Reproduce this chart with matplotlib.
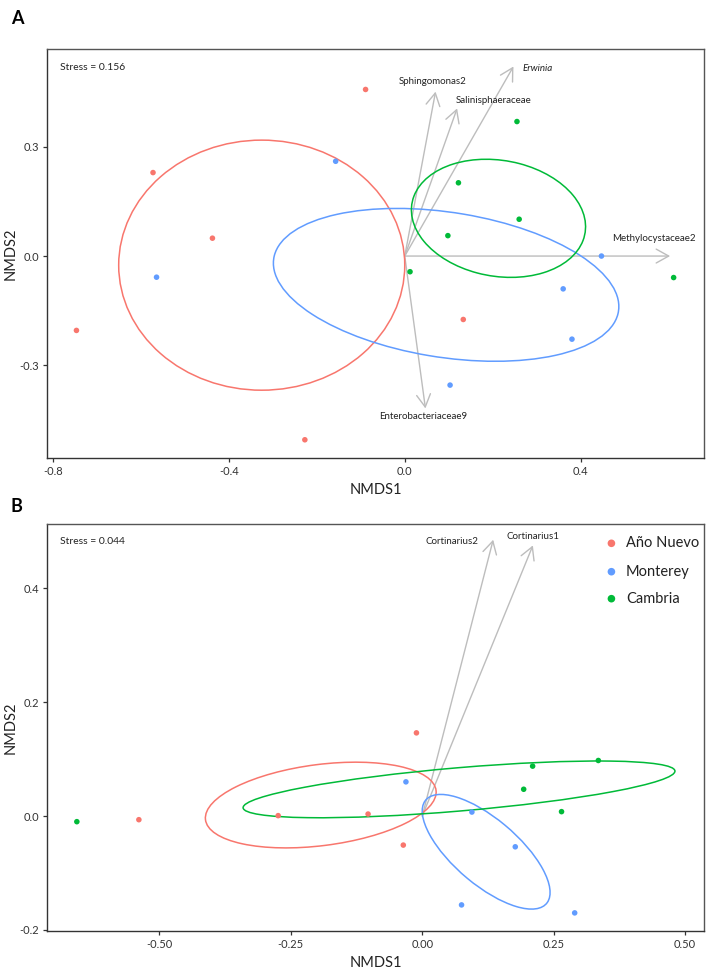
import numpy as np
import matplotlib
matplotlib.use("Agg")
import matplotlib.pyplot as plt
from matplotlib.patches import Ellipse

plt.rcParams['font.family'] = ['Lato', 'DejaVu Sans']

# ---------------- data ----------------
sites = ['Año Nuevo', 'Monterey', 'Cambria']
site_colors = ['#F8766D', '#619CFF', '#00BA38']

# Panel A (bacteria) site scores
a_x = {
    'Año Nuevo': [-0.089, -0.572, -0.437, -0.746, 0.133, -0.227],
    'Monterey':  [-0.157, 0.447, -0.564, 0.360, 0.380, 0.103],
    'Cambria':   [0.255, 0.122, 0.260, 0.098, 0.012, 0.611],
}
a_y = {
    'Año Nuevo': [0.457, 0.229, 0.049, -0.204, -0.174, -0.504],
    'Monterey':  [0.260, 0.000, -0.058, -0.090, -0.228, -0.354],
    'Cambria':   [0.369, 0.201, 0.101, 0.056, -0.043, -0.059],
}
# ellipses: center x, center y, width, height, angle (deg)
a_ell_cx = [-0.325, 0.094, 0.213]
a_ell_cy = [-0.025, -0.079, 0.1035]
a_ell_w = [0.650, 0.797, 0.403]
a_ell_h = [0.686, 0.396, 0.315]
a_ell_ang = [0.0, -11.5, -17.6]

a_vec_names = ['Sphingomonas2', 'Salinisphaeraceae', 'Erwinia', 'Methylocystaceae2', 'Enterobacteriaceae9']
a_vec_x = [0.070, 0.119, 0.247, 0.603, 0.047]
a_vec_y = [0.451, 0.405, 0.520, 0.000, -0.418]
a_lab_x = [0.0636, 0.2016, 0.302, 0.567, 0.0415]
a_lab_y = [0.478, 0.426, 0.515, 0.0486, -0.441]
a_lab_italic = [False, False, True, False, False]
a_stress = 'Stress = 0.156'
a_xticks = [-0.8, -0.4, 0.0, 0.4]
a_yticks = [-0.3, 0.0, 0.3]

# Panel B (fungi) site scores
b_x = {
    'Año Nuevo': [-0.011, -0.274, -0.103, -0.539, -0.036],
    'Monterey':  [-0.031, 0.0945, 0.177, 0.0748, 0.290],
    'Cambria':   [0.210, 0.335, 0.193, 0.265, -0.657],
}
b_y = {
    'Año Nuevo': [0.146, 0.0007, 0.0035, -0.0064, -0.051],
    'Monterey':  [0.060, 0.007, -0.054, -0.156, -0.170],
    'Cambria':   [0.0876, 0.0975, 0.047, 0.0077, -0.0099],
}
b_ell_cx = [-0.193, 0.1216, 0.070]
b_ell_cy = [0.0193, -0.0627, 0.0468]
b_ell_w = [0.4416, 0.293, 0.824]
b_ell_h = [0.1426, 0.1176, 0.076]
b_ell_ang = [6.6, -37.5, 4.5]

b_vec_names = ['Cortinarius2', 'Cortinarius1']
b_vec_x = [0.135, 0.2105]
b_vec_y = [0.485, 0.475]
b_lab_x = [0.056, 0.2114]
b_lab_y = [0.4816, 0.4904]
b_lab_italic = [False, False]
b_stress = 'Stress = 0.044'
b_xticks = [-0.50, -0.25, 0.00, 0.25, 0.50]
b_yticks = [-0.2, 0.0, 0.2, 0.4]

# ---------------- figure ----------------
W, H = 708, 969
fig = plt.figure(figsize=(W / 100, H / 100), dpi=100)

axA = fig.add_axes([47.4 / W, 1 - 458 / H, (704 - 47.4) / W, (458 - 49) / H])
axB = fig.add_axes([47.4 / W, 1 - 931 / H, (704 - 47.4) / W, (931 - 523.5) / H])

ARROW_COLOR = '#BDBDBD'


def draw_panel(ax, xs, ys, ecx, ecy, ew, eh, eang, vnames, vx, vy, lx, ly, litalic,
               stress, xticks, yticks, xfmt, yfmt, xlim, ylim):
    ax.set_xlim(*xlim)
    ax.set_ylim(*ylim)
    for i, s in enumerate(sites):
        ax.scatter(xs[s], ys[s], s=16, color=site_colors[i], edgecolors='none', zorder=3)
        ax.add_patch(Ellipse((ecx[i], ecy[i]), ew[i], eh[i], angle=eang[i],
                             fill=False, edgecolor=site_colors[i], lw=1.1, zorder=2))
    for n, x, y, tx, ty, it in zip(vnames, vx, vy, lx, ly, litalic):
        ax.annotate('', xy=(x, y), xytext=(0, 0),
                    arrowprops=dict(arrowstyle='->,head_length=0.9,head_width=0.5',
                                    color=ARROW_COLOR, lw=1.0, mutation_scale=10,
                                    shrinkA=0, shrinkB=0), zorder=1)
        ax.text(tx, ty, n, ha='center', va='center', fontsize=7, color='#222222',
                style='italic' if it else 'normal')
    ax.text(0.019, 0.955, stress, transform=ax.transAxes, ha='left', va='center',
            fontsize=7.5, color='#222222')
    ax.set_xticks(xticks)
    ax.set_xticklabels([xfmt.format(v) for v in xticks])
    ax.set_yticks(yticks)
    ax.set_yticklabels([yfmt.format(v) for v in yticks])
    ax.tick_params(axis='both', direction='out', length=3, width=0.9, colors='#333333',
                   labelsize=8, labelcolor='#333333', pad=3)
    for sp in ax.spines.values():
        sp.set_color('#555555')
        sp.set_linewidth(1.0)
    ax.spines['left'].set_color('#333333')
    ax.spines['bottom'].set_color('#333333')
    ax.set_xlabel('NMDS1', fontsize=10.5, color='#222222', labelpad=4)
    ax.set_ylabel('NMDS2', fontsize=10.5, color='#222222')
    ax.yaxis.set_label_coords((18 - 47.4) / (704 - 47.4), 0.5)


draw_panel(axA, a_x, a_y, a_ell_cx, a_ell_cy, a_ell_w, a_ell_h, a_ell_ang,
           a_vec_names, a_vec_x, a_vec_y, a_lab_x, a_lab_y, a_lab_italic,
           a_stress, a_xticks, a_yticks, '{:.1f}', '{:.1f}',
           (-0.812, 0.680), (-0.554, 0.568))

draw_panel(axB, b_x, b_y, b_ell_cx, b_ell_cy, b_ell_w, b_ell_h, b_ell_ang,
           b_vec_names, b_vec_x, b_vec_y, b_lab_x, b_lab_y, b_lab_italic,
           b_stress, b_xticks, b_yticks, '{:.2f}', '{:.1f}',
           (-0.713, 0.536), (-0.2018, 0.5135))

# legend (panel B)
leg_y = [0.9514, 0.8817, 0.8155]
for i, s in enumerate(sites):
    axB.scatter([0.859], [leg_y[i]], s=30, color=site_colors[i], edgecolors='none',
                transform=axB.transAxes, clip_on=False, zorder=4)
    axB.text(0.881, leg_y[i], s, transform=axB.transAxes, ha='left', va='center',
             fontsize=10.5, color='#222222')

fig.text(17.7 / W, 1 - 18 / H, 'A', fontsize=13, fontweight='bold', ha='center', va='center')
fig.text(16 / W, 1 - 506 / H, 'B', fontsize=13, fontweight='bold', ha='center', va='center')

fig.savefig('out.png', dpi=100)
